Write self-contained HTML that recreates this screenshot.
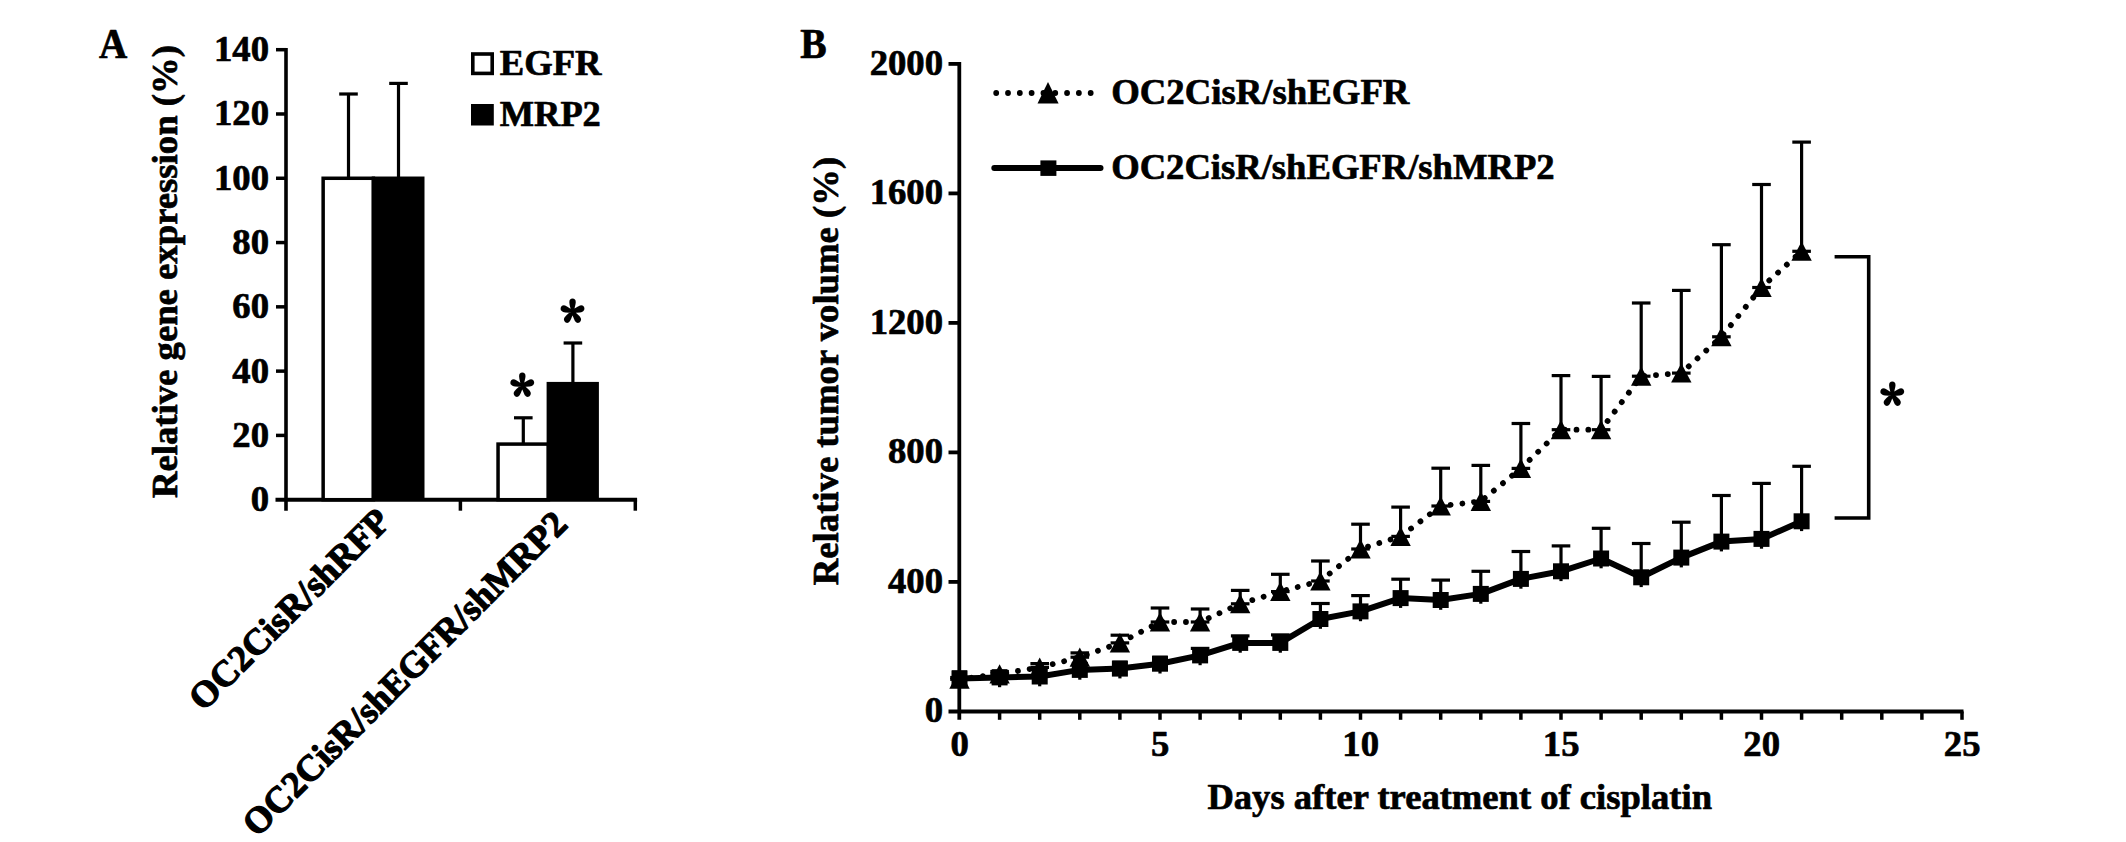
<!DOCTYPE html>
<html><head><meta charset="utf-8"><title>Figure</title>
<style>
html,body{margin:0;padding:0;background:#fff;}
body{width:2126px;height:842px;overflow:hidden;}
svg{display:block;}
svg text{font-family:"Liberation Serif", "Times New Roman", Times, serif;font-weight:bold;fill:#000;stroke:#000;stroke-width:0.7px;stroke-linejoin:round;}
</style></head><body>
<svg width="2126" height="842" viewBox="0 0 2126 842">
<rect width="2126" height="842" fill="#fff"/>
<text x="99.00" y="57.90" font-size="41.5" text-anchor="start" textLength="28.3" lengthAdjust="spacingAndGlyphs">A</text>
<line x1="286.00" y1="47.90" x2="286.00" y2="510.70" stroke="#000" stroke-width="3.6" />
<line x1="275.50" y1="499.70" x2="637.10" y2="499.70" stroke="#000" stroke-width="4" />
<text x="269.00" y="511.20" font-size="36.7" text-anchor="end" >0</text>
<line x1="276.00" y1="435.41" x2="286.00" y2="435.41" stroke="#000" stroke-width="3.5" />
<text x="269.00" y="446.91" font-size="36.7" text-anchor="end" >20</text>
<line x1="276.00" y1="371.13" x2="286.00" y2="371.13" stroke="#000" stroke-width="3.5" />
<text x="269.00" y="382.63" font-size="36.7" text-anchor="end" >40</text>
<line x1="276.00" y1="306.84" x2="286.00" y2="306.84" stroke="#000" stroke-width="3.5" />
<text x="269.00" y="318.34" font-size="36.7" text-anchor="end" >60</text>
<line x1="276.00" y1="242.56" x2="286.00" y2="242.56" stroke="#000" stroke-width="3.5" />
<text x="269.00" y="254.06" font-size="36.7" text-anchor="end" >80</text>
<line x1="276.00" y1="178.27" x2="286.00" y2="178.27" stroke="#000" stroke-width="3.5" />
<text x="269.00" y="189.77" font-size="36.7" text-anchor="end" >100</text>
<line x1="276.00" y1="113.98" x2="286.00" y2="113.98" stroke="#000" stroke-width="3.5" />
<text x="269.00" y="125.48" font-size="36.7" text-anchor="end" >120</text>
<line x1="276.00" y1="49.70" x2="286.00" y2="49.70" stroke="#000" stroke-width="3.5" />
<text x="269.00" y="61.20" font-size="36.7" text-anchor="end" >140</text>
<line x1="460.40" y1="499.70" x2="460.40" y2="510.70" stroke="#000" stroke-width="3.5" />
<line x1="635.30" y1="499.70" x2="635.30" y2="510.70" stroke="#000" stroke-width="3.5" />
<rect x="323.15" y="178.27" width="50.25" height="321.43" fill="#fff" stroke="#000" stroke-width="3.5"/>
<rect x="371.70" y="176.52" width="52.80" height="323.18" fill="#000"/>
<line x1="348.50" y1="178.27" x2="348.50" y2="94.00" stroke="#000" stroke-width="3.2" />
<line x1="339.20" y1="94.00" x2="357.80" y2="94.00" stroke="#000" stroke-width="3.2" />
<line x1="398.50" y1="178.27" x2="398.50" y2="83.40" stroke="#000" stroke-width="3.2" />
<line x1="389.20" y1="83.40" x2="407.80" y2="83.40" stroke="#000" stroke-width="3.2" />
<rect x="498.05" y="444.09" width="50.35" height="55.61" fill="#fff" stroke="#000" stroke-width="3.5"/>
<rect x="546.60" y="381.91" width="52.30" height="117.79" fill="#000"/>
<line x1="523.30" y1="444.09" x2="523.30" y2="417.80" stroke="#000" stroke-width="3.2" />
<line x1="514.00" y1="417.80" x2="532.60" y2="417.80" stroke="#000" stroke-width="3.2" />
<line x1="572.90" y1="383.02" x2="572.90" y2="343.00" stroke="#000" stroke-width="3.2" />
<line x1="563.60" y1="343.00" x2="582.20" y2="343.00" stroke="#000" stroke-width="3.2" />
<text transform="translate(522.3,384.3) scale(1,1.06)" x="-11.76" y="29.59" font-size="48.5" style="font-family:'Noto Serif CJK SC','Liberation Sans',serif;stroke-width:1.94px">*</text>
<text transform="translate(572.4,310.5) scale(1,1.06)" x="-11.76" y="29.59" font-size="48.5" style="font-family:'Noto Serif CJK SC','Liberation Sans',serif;stroke-width:1.94px">*</text>
<rect x="472.8" y="54.0" width="19.4" height="19.4" fill="#fff" stroke="#000" stroke-width="3.6"/>
<rect x="471.0" y="104.0" width="22.8" height="21.5" fill="#000"/>
<text x="499.80" y="74.60" font-size="36.7" text-anchor="start" textLength="101.6" lengthAdjust="spacingAndGlyphs">EGFR</text>
<text x="499.80" y="125.60" font-size="36.7" text-anchor="start" textLength="101.0" lengthAdjust="spacingAndGlyphs">MRP2</text>
<text transform="translate(176.8,498.0) rotate(-90)" font-size="36.7" textLength="452.9" lengthAdjust="spacingAndGlyphs">Relative gene expression (%)</text>
<text transform="translate(392.4,523.4) rotate(-45)" font-size="36.7" text-anchor="end" style="stroke-width:1.2px">OC2CisR/shRFP</text>
<text transform="translate(569.1,526.1) rotate(-45)" font-size="36.7" text-anchor="end" textLength="441" lengthAdjust="spacingAndGlyphs" style="stroke-width:1.2px">OC2CisR/shEGFR/shMRP2</text>
<text x="800.30" y="57.80" font-size="41.5" text-anchor="start" textLength="26.4" lengthAdjust="spacingAndGlyphs">B</text>
<line x1="959.30" y1="62.00" x2="959.30" y2="719.80" stroke="#000" stroke-width="3.8" />
<line x1="948.50" y1="711.40" x2="1963.50" y2="711.40" stroke="#000" stroke-width="4" />
<text x="943.00" y="722.40" font-size="36.7" text-anchor="end" >0</text>
<line x1="948.50" y1="581.90" x2="959.30" y2="581.90" stroke="#000" stroke-width="3.8" />
<text x="943.00" y="592.90" font-size="36.7" text-anchor="end" >400</text>
<line x1="948.50" y1="452.40" x2="959.30" y2="452.40" stroke="#000" stroke-width="3.8" />
<text x="943.00" y="463.40" font-size="36.7" text-anchor="end" >800</text>
<line x1="948.50" y1="322.90" x2="959.30" y2="322.90" stroke="#000" stroke-width="3.8" />
<text x="943.00" y="333.90" font-size="36.7" text-anchor="end" >1200</text>
<line x1="948.50" y1="193.40" x2="959.30" y2="193.40" stroke="#000" stroke-width="3.8" />
<text x="943.00" y="204.40" font-size="36.7" text-anchor="end" >1600</text>
<line x1="948.50" y1="63.90" x2="959.30" y2="63.90" stroke="#000" stroke-width="3.8" />
<text x="943.00" y="74.90" font-size="36.7" text-anchor="end" >2000</text>
<line x1="999.60" y1="711.40" x2="999.60" y2="719.80" stroke="#000" stroke-width="3.5" />
<line x1="1039.70" y1="711.40" x2="1039.70" y2="719.80" stroke="#000" stroke-width="3.5" />
<line x1="1079.80" y1="711.40" x2="1079.80" y2="719.80" stroke="#000" stroke-width="3.5" />
<line x1="1119.90" y1="711.40" x2="1119.90" y2="719.80" stroke="#000" stroke-width="3.5" />
<line x1="1160.00" y1="711.40" x2="1160.00" y2="719.80" stroke="#000" stroke-width="3.5" />
<line x1="1200.10" y1="711.40" x2="1200.10" y2="719.80" stroke="#000" stroke-width="3.5" />
<line x1="1240.20" y1="711.40" x2="1240.20" y2="719.80" stroke="#000" stroke-width="3.5" />
<line x1="1280.30" y1="711.40" x2="1280.30" y2="719.80" stroke="#000" stroke-width="3.5" />
<line x1="1320.40" y1="711.40" x2="1320.40" y2="719.80" stroke="#000" stroke-width="3.5" />
<line x1="1360.50" y1="711.40" x2="1360.50" y2="719.80" stroke="#000" stroke-width="3.5" />
<line x1="1400.60" y1="711.40" x2="1400.60" y2="719.80" stroke="#000" stroke-width="3.5" />
<line x1="1440.70" y1="711.40" x2="1440.70" y2="719.80" stroke="#000" stroke-width="3.5" />
<line x1="1480.80" y1="711.40" x2="1480.80" y2="719.80" stroke="#000" stroke-width="3.5" />
<line x1="1520.90" y1="711.40" x2="1520.90" y2="719.80" stroke="#000" stroke-width="3.5" />
<line x1="1561.00" y1="711.40" x2="1561.00" y2="719.80" stroke="#000" stroke-width="3.5" />
<line x1="1601.10" y1="711.40" x2="1601.10" y2="719.80" stroke="#000" stroke-width="3.5" />
<line x1="1641.20" y1="711.40" x2="1641.20" y2="719.80" stroke="#000" stroke-width="3.5" />
<line x1="1681.30" y1="711.40" x2="1681.30" y2="719.80" stroke="#000" stroke-width="3.5" />
<line x1="1721.40" y1="711.40" x2="1721.40" y2="719.80" stroke="#000" stroke-width="3.5" />
<line x1="1761.50" y1="711.40" x2="1761.50" y2="719.80" stroke="#000" stroke-width="3.5" />
<line x1="1801.60" y1="711.40" x2="1801.60" y2="719.80" stroke="#000" stroke-width="3.5" />
<line x1="1841.70" y1="711.40" x2="1841.70" y2="719.80" stroke="#000" stroke-width="3.5" />
<line x1="1881.80" y1="711.40" x2="1881.80" y2="719.80" stroke="#000" stroke-width="3.5" />
<line x1="1921.90" y1="711.40" x2="1921.90" y2="719.80" stroke="#000" stroke-width="3.5" />
<line x1="1962.00" y1="711.40" x2="1962.00" y2="719.80" stroke="#000" stroke-width="3.5" />
<text x="959.70" y="755.80" font-size="36.7" text-anchor="middle" >0</text>
<text x="1160.20" y="755.80" font-size="36.7" text-anchor="middle" >5</text>
<text x="1360.70" y="755.80" font-size="36.7" text-anchor="middle" >10</text>
<text x="1561.20" y="755.80" font-size="36.7" text-anchor="middle" >15</text>
<text x="1761.70" y="755.80" font-size="36.7" text-anchor="middle" >20</text>
<text x="1962.20" y="755.80" font-size="36.7" text-anchor="middle" >25</text>
<text x="1207.40" y="809.00" font-size="36.7" text-anchor="start" textLength="504.6" lengthAdjust="spacingAndGlyphs">Days after treatment of cisplatin</text>
<text transform="translate(838.0,585.2) rotate(-90)" font-size="36.7" textLength="428.4" lengthAdjust="spacingAndGlyphs">Relative tumor volume (%)</text>
<polyline points="959.5,679.3 999.6,674.0 1039.7,667.4 1079.8,657.2 1119.9,642.9 1160.0,622.0 1200.1,622.0 1240.2,603.8 1280.3,591.6 1320.4,581.0 1360.5,549.0 1400.6,536.4 1440.7,506.0 1480.8,501.4 1520.9,468.4 1561.0,429.7 1601.1,429.7 1641.2,376.2 1681.3,373.1 1721.4,336.8 1761.5,287.5 1801.6,251.3" fill="none" stroke="#000" stroke-width="5.8" stroke-linecap="round" stroke-dasharray="0.01 11.8"/>
<polyline points="959.5,678.4 999.6,677.4 1039.7,676.5 1079.8,669.9 1119.9,668.6 1160.0,663.7 1200.1,655.4 1240.2,642.9 1280.3,642.9 1320.4,619.0 1360.5,611.4 1400.6,598.1 1440.7,600.0 1480.8,593.9 1520.9,578.9 1561.0,571.3 1601.1,558.5 1641.2,577.3 1681.3,557.6 1721.4,541.6 1761.5,538.9 1801.6,521.3" fill="none" stroke="#000" stroke-width="6" stroke-linejoin="round"/>
<line x1="959.50" y1="679.30" x2="959.50" y2="677.50" stroke="#000" stroke-width="3.2" />
<line x1="950.20" y1="677.50" x2="968.80" y2="677.50" stroke="#000" stroke-width="3.2" />
<line x1="950.20" y1="679.30" x2="968.80" y2="679.30" stroke="#000" stroke-width="3.2" />
<line x1="959.50" y1="688.20" x2="959.50" y2="672.00" stroke="#000" stroke-width="3.2" />
<line x1="952.00" y1="672.00" x2="967.00" y2="672.00" stroke="#000" stroke-width="3.2" />
<polygon points="959.5,669.5 969.7,688.8 949.3,688.8" fill="#000"/>
<rect x="951.5" y="670.4" width="16" height="16" fill="#000"/>
<line x1="999.60" y1="674.00" x2="999.60" y2="671.50" stroke="#000" stroke-width="3.2" />
<line x1="990.30" y1="671.50" x2="1008.90" y2="671.50" stroke="#000" stroke-width="3.2" />
<line x1="990.30" y1="674.00" x2="1008.90" y2="674.00" stroke="#000" stroke-width="3.2" />
<line x1="999.60" y1="687.20" x2="999.60" y2="671.00" stroke="#000" stroke-width="3.2" />
<line x1="992.10" y1="671.00" x2="1007.10" y2="671.00" stroke="#000" stroke-width="3.2" />
<polygon points="999.6,664.2 1009.8,683.5 989.4,683.5" fill="#000"/>
<rect x="991.6" y="669.4" width="16" height="16" fill="#000"/>
<line x1="1039.70" y1="667.40" x2="1039.70" y2="663.60" stroke="#000" stroke-width="3.2" />
<line x1="1030.40" y1="663.60" x2="1049.00" y2="663.60" stroke="#000" stroke-width="3.2" />
<line x1="1030.40" y1="667.40" x2="1049.00" y2="667.40" stroke="#000" stroke-width="3.2" />
<line x1="1039.70" y1="686.30" x2="1039.70" y2="670.10" stroke="#000" stroke-width="3.2" />
<line x1="1032.20" y1="670.10" x2="1047.20" y2="670.10" stroke="#000" stroke-width="3.2" />
<polygon points="1039.7,657.6 1049.9,676.9 1029.5,676.9" fill="#000"/>
<rect x="1031.7" y="668.5" width="16" height="16" fill="#000"/>
<line x1="1079.80" y1="657.20" x2="1079.80" y2="652.90" stroke="#000" stroke-width="3.2" />
<line x1="1070.50" y1="652.90" x2="1089.10" y2="652.90" stroke="#000" stroke-width="3.2" />
<line x1="1070.50" y1="657.20" x2="1089.10" y2="657.20" stroke="#000" stroke-width="3.2" />
<line x1="1079.80" y1="679.70" x2="1079.80" y2="663.50" stroke="#000" stroke-width="3.2" />
<line x1="1072.30" y1="663.50" x2="1087.30" y2="663.50" stroke="#000" stroke-width="3.2" />
<polygon points="1079.8,647.4 1090.0,666.7 1069.6,666.7" fill="#000"/>
<rect x="1071.8" y="661.9" width="16" height="16" fill="#000"/>
<line x1="1119.90" y1="642.90" x2="1119.90" y2="635.20" stroke="#000" stroke-width="3.2" />
<line x1="1110.60" y1="635.20" x2="1129.20" y2="635.20" stroke="#000" stroke-width="3.2" />
<line x1="1110.60" y1="642.90" x2="1129.20" y2="642.90" stroke="#000" stroke-width="3.2" />
<line x1="1119.90" y1="678.40" x2="1119.90" y2="662.20" stroke="#000" stroke-width="3.2" />
<line x1="1112.40" y1="662.20" x2="1127.40" y2="662.20" stroke="#000" stroke-width="3.2" />
<polygon points="1119.9,633.1 1130.1,652.4 1109.7,652.4" fill="#000"/>
<rect x="1111.9" y="660.6" width="16" height="16" fill="#000"/>
<line x1="1160.00" y1="622.00" x2="1160.00" y2="608.00" stroke="#000" stroke-width="3.2" />
<line x1="1150.70" y1="608.00" x2="1169.30" y2="608.00" stroke="#000" stroke-width="3.2" />
<line x1="1150.70" y1="622.00" x2="1169.30" y2="622.00" stroke="#000" stroke-width="3.2" />
<line x1="1160.00" y1="673.50" x2="1160.00" y2="657.30" stroke="#000" stroke-width="3.2" />
<line x1="1152.50" y1="657.30" x2="1167.50" y2="657.30" stroke="#000" stroke-width="3.2" />
<polygon points="1160.0,612.2 1170.2,631.5 1149.8,631.5" fill="#000"/>
<rect x="1152.0" y="655.7" width="16" height="16" fill="#000"/>
<line x1="1200.10" y1="622.00" x2="1200.10" y2="609.00" stroke="#000" stroke-width="3.2" />
<line x1="1190.80" y1="609.00" x2="1209.40" y2="609.00" stroke="#000" stroke-width="3.2" />
<line x1="1190.80" y1="622.00" x2="1209.40" y2="622.00" stroke="#000" stroke-width="3.2" />
<line x1="1200.10" y1="665.20" x2="1200.10" y2="648.40" stroke="#000" stroke-width="3.2" />
<line x1="1190.80" y1="648.40" x2="1209.40" y2="648.40" stroke="#000" stroke-width="3.2" />
<polygon points="1200.1,612.2 1210.3,631.5 1189.9,631.5" fill="#000"/>
<rect x="1192.1" y="647.4" width="16" height="16" fill="#000"/>
<line x1="1240.20" y1="603.80" x2="1240.20" y2="590.40" stroke="#000" stroke-width="3.2" />
<line x1="1230.90" y1="590.40" x2="1249.50" y2="590.40" stroke="#000" stroke-width="3.2" />
<line x1="1230.90" y1="603.80" x2="1249.50" y2="603.80" stroke="#000" stroke-width="3.2" />
<line x1="1240.20" y1="652.70" x2="1240.20" y2="635.90" stroke="#000" stroke-width="3.2" />
<line x1="1230.90" y1="635.90" x2="1249.50" y2="635.90" stroke="#000" stroke-width="3.2" />
<polygon points="1240.2,594.0 1250.4,613.3 1230.0,613.3" fill="#000"/>
<rect x="1232.2" y="634.9" width="16" height="16" fill="#000"/>
<line x1="1280.30" y1="591.60" x2="1280.30" y2="574.30" stroke="#000" stroke-width="3.2" />
<line x1="1271.00" y1="574.30" x2="1289.60" y2="574.30" stroke="#000" stroke-width="3.2" />
<line x1="1271.00" y1="591.60" x2="1289.60" y2="591.60" stroke="#000" stroke-width="3.2" />
<line x1="1280.30" y1="652.70" x2="1280.30" y2="634.90" stroke="#000" stroke-width="3.2" />
<line x1="1271.00" y1="634.90" x2="1289.60" y2="634.90" stroke="#000" stroke-width="3.2" />
<polygon points="1280.3,581.8 1290.5,601.1 1270.1,601.1" fill="#000"/>
<rect x="1272.3" y="634.9" width="16" height="16" fill="#000"/>
<line x1="1320.40" y1="581.00" x2="1320.40" y2="561.00" stroke="#000" stroke-width="3.2" />
<line x1="1311.10" y1="561.00" x2="1329.70" y2="561.00" stroke="#000" stroke-width="3.2" />
<line x1="1311.10" y1="581.00" x2="1329.70" y2="581.00" stroke="#000" stroke-width="3.2" />
<line x1="1320.40" y1="628.80" x2="1320.40" y2="603.50" stroke="#000" stroke-width="3.2" />
<line x1="1311.10" y1="603.50" x2="1329.70" y2="603.50" stroke="#000" stroke-width="3.2" />
<polygon points="1320.4,571.2 1330.6,590.5 1310.2,590.5" fill="#000"/>
<rect x="1312.4" y="611.0" width="16" height="16" fill="#000"/>
<line x1="1360.50" y1="549.00" x2="1360.50" y2="524.20" stroke="#000" stroke-width="3.2" />
<line x1="1351.20" y1="524.20" x2="1369.80" y2="524.20" stroke="#000" stroke-width="3.2" />
<line x1="1351.20" y1="549.00" x2="1369.80" y2="549.00" stroke="#000" stroke-width="3.2" />
<line x1="1360.50" y1="621.20" x2="1360.50" y2="595.60" stroke="#000" stroke-width="3.2" />
<line x1="1351.20" y1="595.60" x2="1369.80" y2="595.60" stroke="#000" stroke-width="3.2" />
<polygon points="1360.5,539.2 1370.7,558.5 1350.3,558.5" fill="#000"/>
<rect x="1352.5" y="603.4" width="16" height="16" fill="#000"/>
<line x1="1400.60" y1="536.40" x2="1400.60" y2="507.10" stroke="#000" stroke-width="3.2" />
<line x1="1391.30" y1="507.10" x2="1409.90" y2="507.10" stroke="#000" stroke-width="3.2" />
<line x1="1391.30" y1="536.40" x2="1409.90" y2="536.40" stroke="#000" stroke-width="3.2" />
<line x1="1400.60" y1="607.90" x2="1400.60" y2="579.20" stroke="#000" stroke-width="3.2" />
<line x1="1391.30" y1="579.20" x2="1409.90" y2="579.20" stroke="#000" stroke-width="3.2" />
<polygon points="1400.6,526.6 1410.8,545.9 1390.4,545.9" fill="#000"/>
<rect x="1392.6" y="590.1" width="16" height="16" fill="#000"/>
<line x1="1440.70" y1="506.00" x2="1440.70" y2="468.20" stroke="#000" stroke-width="3.2" />
<line x1="1431.40" y1="468.20" x2="1450.00" y2="468.20" stroke="#000" stroke-width="3.2" />
<line x1="1431.40" y1="506.00" x2="1450.00" y2="506.00" stroke="#000" stroke-width="3.2" />
<line x1="1440.70" y1="609.80" x2="1440.70" y2="580.10" stroke="#000" stroke-width="3.2" />
<line x1="1431.40" y1="580.10" x2="1450.00" y2="580.10" stroke="#000" stroke-width="3.2" />
<polygon points="1440.7,496.2 1450.9,515.5 1430.5,515.5" fill="#000"/>
<rect x="1432.7" y="592.0" width="16" height="16" fill="#000"/>
<line x1="1480.80" y1="501.40" x2="1480.80" y2="465.40" stroke="#000" stroke-width="3.2" />
<line x1="1471.50" y1="465.40" x2="1490.10" y2="465.40" stroke="#000" stroke-width="3.2" />
<line x1="1471.50" y1="501.40" x2="1490.10" y2="501.40" stroke="#000" stroke-width="3.2" />
<line x1="1480.80" y1="603.70" x2="1480.80" y2="571.30" stroke="#000" stroke-width="3.2" />
<line x1="1471.50" y1="571.30" x2="1490.10" y2="571.30" stroke="#000" stroke-width="3.2" />
<polygon points="1480.8,491.6 1491.0,510.9 1470.6,510.9" fill="#000"/>
<rect x="1472.8" y="585.9" width="16" height="16" fill="#000"/>
<line x1="1520.90" y1="468.40" x2="1520.90" y2="423.50" stroke="#000" stroke-width="3.2" />
<line x1="1511.60" y1="423.50" x2="1530.20" y2="423.50" stroke="#000" stroke-width="3.2" />
<line x1="1511.60" y1="468.40" x2="1530.20" y2="468.40" stroke="#000" stroke-width="3.2" />
<line x1="1520.90" y1="588.70" x2="1520.90" y2="551.50" stroke="#000" stroke-width="3.2" />
<line x1="1511.60" y1="551.50" x2="1530.20" y2="551.50" stroke="#000" stroke-width="3.2" />
<polygon points="1520.9,458.6 1531.1,477.9 1510.7,477.9" fill="#000"/>
<rect x="1512.9" y="570.9" width="16" height="16" fill="#000"/>
<line x1="1561.00" y1="429.70" x2="1561.00" y2="375.60" stroke="#000" stroke-width="3.2" />
<line x1="1551.70" y1="375.60" x2="1570.30" y2="375.60" stroke="#000" stroke-width="3.2" />
<line x1="1551.70" y1="429.70" x2="1570.30" y2="429.70" stroke="#000" stroke-width="3.2" />
<line x1="1561.00" y1="581.10" x2="1561.00" y2="545.90" stroke="#000" stroke-width="3.2" />
<line x1="1551.70" y1="545.90" x2="1570.30" y2="545.90" stroke="#000" stroke-width="3.2" />
<polygon points="1561.0,419.9 1571.2,439.2 1550.8,439.2" fill="#000"/>
<rect x="1553.0" y="563.3" width="16" height="16" fill="#000"/>
<line x1="1601.10" y1="429.70" x2="1601.10" y2="376.40" stroke="#000" stroke-width="3.2" />
<line x1="1591.80" y1="376.40" x2="1610.40" y2="376.40" stroke="#000" stroke-width="3.2" />
<line x1="1591.80" y1="429.70" x2="1610.40" y2="429.70" stroke="#000" stroke-width="3.2" />
<line x1="1601.10" y1="568.30" x2="1601.10" y2="528.30" stroke="#000" stroke-width="3.2" />
<line x1="1591.80" y1="528.30" x2="1610.40" y2="528.30" stroke="#000" stroke-width="3.2" />
<polygon points="1601.1,419.9 1611.3,439.2 1590.9,439.2" fill="#000"/>
<rect x="1593.1" y="550.5" width="16" height="16" fill="#000"/>
<line x1="1641.20" y1="376.20" x2="1641.20" y2="303.00" stroke="#000" stroke-width="3.2" />
<line x1="1631.90" y1="303.00" x2="1650.50" y2="303.00" stroke="#000" stroke-width="3.2" />
<line x1="1631.90" y1="376.20" x2="1650.50" y2="376.20" stroke="#000" stroke-width="3.2" />
<line x1="1641.20" y1="587.10" x2="1641.20" y2="543.50" stroke="#000" stroke-width="3.2" />
<line x1="1631.90" y1="543.50" x2="1650.50" y2="543.50" stroke="#000" stroke-width="3.2" />
<polygon points="1641.2,366.4 1651.4,385.7 1631.0,385.7" fill="#000"/>
<rect x="1633.2" y="569.3" width="16" height="16" fill="#000"/>
<line x1="1681.30" y1="373.10" x2="1681.30" y2="290.40" stroke="#000" stroke-width="3.2" />
<line x1="1672.00" y1="290.40" x2="1690.60" y2="290.40" stroke="#000" stroke-width="3.2" />
<line x1="1672.00" y1="373.10" x2="1690.60" y2="373.10" stroke="#000" stroke-width="3.2" />
<line x1="1681.30" y1="567.40" x2="1681.30" y2="522.20" stroke="#000" stroke-width="3.2" />
<line x1="1672.00" y1="522.20" x2="1690.60" y2="522.20" stroke="#000" stroke-width="3.2" />
<polygon points="1681.3,363.3 1691.5,382.6 1671.1,382.6" fill="#000"/>
<rect x="1673.3" y="549.6" width="16" height="16" fill="#000"/>
<line x1="1721.40" y1="336.80" x2="1721.40" y2="244.70" stroke="#000" stroke-width="3.2" />
<line x1="1712.10" y1="244.70" x2="1730.70" y2="244.70" stroke="#000" stroke-width="3.2" />
<line x1="1712.10" y1="336.80" x2="1730.70" y2="336.80" stroke="#000" stroke-width="3.2" />
<line x1="1721.40" y1="551.40" x2="1721.40" y2="495.50" stroke="#000" stroke-width="3.2" />
<line x1="1712.10" y1="495.50" x2="1730.70" y2="495.50" stroke="#000" stroke-width="3.2" />
<polygon points="1721.4,327.0 1731.6,346.3 1711.2,346.3" fill="#000"/>
<rect x="1713.4" y="533.6" width="16" height="16" fill="#000"/>
<line x1="1761.50" y1="287.50" x2="1761.50" y2="184.50" stroke="#000" stroke-width="3.2" />
<line x1="1752.20" y1="184.50" x2="1770.80" y2="184.50" stroke="#000" stroke-width="3.2" />
<line x1="1752.20" y1="287.50" x2="1770.80" y2="287.50" stroke="#000" stroke-width="3.2" />
<line x1="1761.50" y1="548.70" x2="1761.50" y2="483.40" stroke="#000" stroke-width="3.2" />
<line x1="1752.20" y1="483.40" x2="1770.80" y2="483.40" stroke="#000" stroke-width="3.2" />
<polygon points="1761.5,277.7 1771.7,297.0 1751.3,297.0" fill="#000"/>
<rect x="1753.5" y="530.9" width="16" height="16" fill="#000"/>
<line x1="1801.60" y1="251.30" x2="1801.60" y2="142.10" stroke="#000" stroke-width="3.2" />
<line x1="1792.30" y1="142.10" x2="1810.90" y2="142.10" stroke="#000" stroke-width="3.2" />
<line x1="1792.30" y1="251.30" x2="1810.90" y2="251.30" stroke="#000" stroke-width="3.2" />
<line x1="1801.60" y1="531.10" x2="1801.60" y2="466.30" stroke="#000" stroke-width="3.2" />
<line x1="1792.30" y1="466.30" x2="1810.90" y2="466.30" stroke="#000" stroke-width="3.2" />
<polygon points="1801.6,241.5 1811.8,260.8 1791.4,260.8" fill="#000"/>
<rect x="1793.6" y="513.3" width="16" height="16" fill="#000"/>
<line x1="996.2" y1="93.0" x2="1092" y2="93.0" stroke="#000" stroke-width="5.8" stroke-linecap="round" stroke-dasharray="0.01 11.8"/>
<polygon points="1048.0,81.9 1058.6,103.6 1037.5,103.6" fill="#000"/>
<line x1="994.30" y1="167.90" x2="1100.50" y2="167.90" stroke="#000" stroke-width="6" stroke-linecap="round"/>
<rect x="1040.4" y="160.4" width="16" height="15.5" fill="#000"/>
<text x="1111.20" y="104.00" font-size="36.7" text-anchor="start" textLength="298.2" lengthAdjust="spacingAndGlyphs">OC2CisR/shEGFR</text>
<text x="1111.20" y="179.20" font-size="36.7" text-anchor="start" textLength="443.4" lengthAdjust="spacingAndGlyphs">OC2CisR/shEGFR/shMRP2</text>
<polyline points="1834.6,256.8 1868.7,256.8 1868.7,518.0 1834.6,518.0" fill="none" stroke="#000" stroke-width="3.6"/>
<text transform="translate(1892.2,394.0) scale(1,1.06)" x="-11.76" y="29.59" font-size="48.5" style="font-family:'Noto Serif CJK SC','Liberation Sans',serif;stroke-width:1.94px">*</text>
</svg>
</body></html>
